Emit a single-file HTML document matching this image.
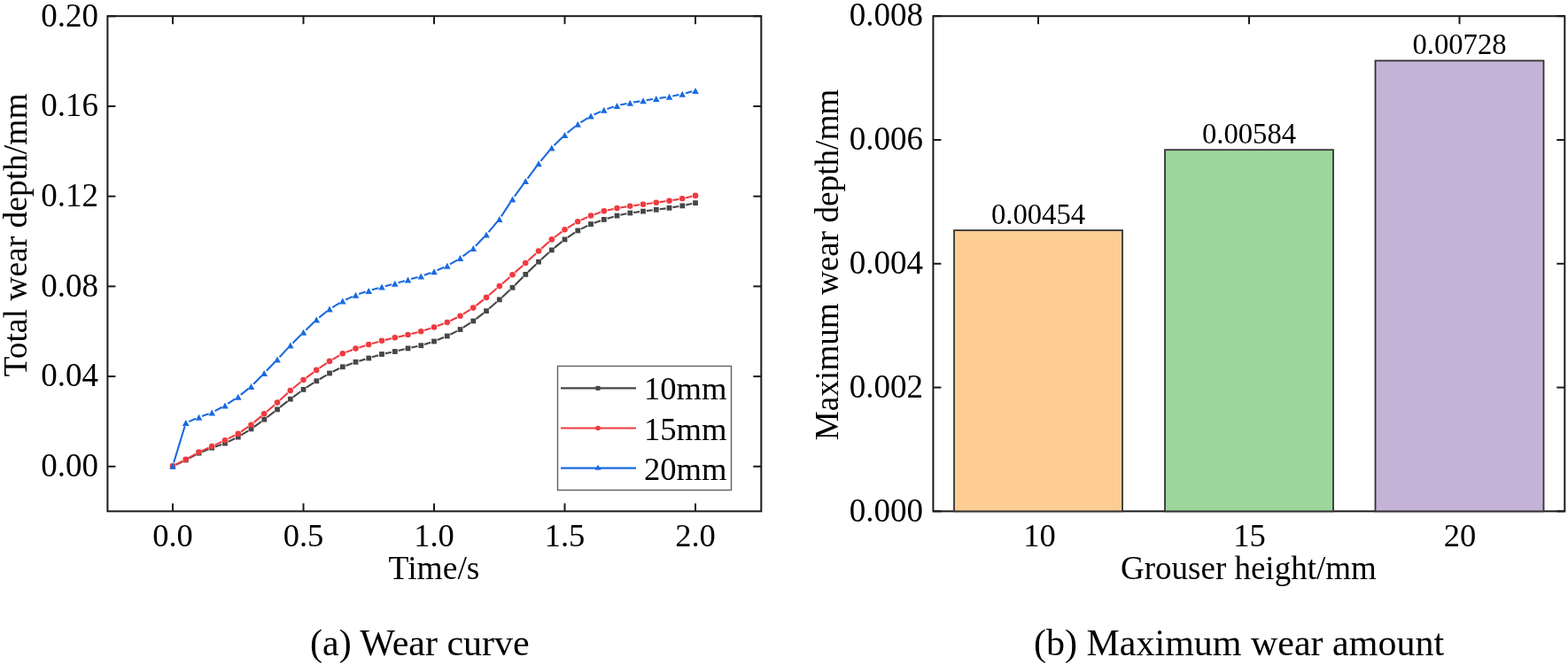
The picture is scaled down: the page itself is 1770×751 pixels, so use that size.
<!DOCTYPE html>
<html><head><meta charset="utf-8"><title>Wear curve and maximum wear amount</title>
<style>html,body{margin:0;padding:0;background:#fff;}body{width:1770px;height:751px;overflow:hidden;}svg{display:block;}</style>
</head><body>
<svg width="1770" height="751" viewBox="0 0 1770 751"><rect width="1770" height="751" fill="#ffffff"/><g stroke="#1a1a1a" stroke-width="2" fill="none"><rect x="121.4" y="18.2" width="737.9" height="559.1999999999999"/></g><g stroke="#1a1a1a" stroke-width="2"><line x1="121.4" y1="526.8" x2="130.4" y2="526.8"/><line x1="859.3" y1="526.8" x2="850.3" y2="526.8"/><line x1="121.4" y1="425.1" x2="130.4" y2="425.1"/><line x1="859.3" y1="425.1" x2="850.3" y2="425.1"/><line x1="121.4" y1="323.4" x2="130.4" y2="323.4"/><line x1="859.3" y1="323.4" x2="850.3" y2="323.4"/><line x1="121.4" y1="221.7" x2="130.4" y2="221.7"/><line x1="859.3" y1="221.7" x2="850.3" y2="221.7"/><line x1="121.4" y1="120.0" x2="130.4" y2="120.0"/><line x1="859.3" y1="120.0" x2="850.3" y2="120.0"/><line x1="121.4" y1="18.3" x2="130.4" y2="18.3"/><line x1="859.3" y1="18.3" x2="850.3" y2="18.3"/><line x1="195.0" y1="577.4" x2="195.0" y2="568.4"/><line x1="195.0" y1="18.2" x2="195.0" y2="27.2"/><line x1="342.5" y1="577.4" x2="342.5" y2="568.4"/><line x1="342.5" y1="18.2" x2="342.5" y2="27.2"/><line x1="490.0" y1="577.4" x2="490.0" y2="568.4"/><line x1="490.0" y1="18.2" x2="490.0" y2="27.2"/><line x1="637.5" y1="577.4" x2="637.5" y2="568.4"/><line x1="637.5" y1="18.2" x2="637.5" y2="27.2"/><line x1="785.0" y1="577.4" x2="785.0" y2="568.4"/><line x1="785.0" y1="18.2" x2="785.0" y2="27.2"/></g><g font-family="Liberation Serif, Times New Roman, serif" font-size="37" fill="#000" text-anchor="end"><text x="111" y="538.0">0.00</text><text x="111" y="436.3">0.04</text><text x="111" y="334.6">0.08</text><text x="111" y="232.9">0.12</text><text x="111" y="131.2">0.16</text><text x="111" y="29.5">0.20</text></g><g font-family="Liberation Serif, Times New Roman, serif" font-size="36.5" fill="#000" text-anchor="middle"><text x="195.0" y="616.5">0.0</text><text x="342.5" y="616.5">0.5</text><text x="490.0" y="616.5">1.0</text><text x="637.5" y="616.5">1.5</text><text x="785.0" y="616.5">2.0</text></g><text font-family="Liberation Serif, Times New Roman, serif" font-size="37.5" x="490" y="654" text-anchor="middle">Time/s</text><text font-family="Liberation Serif, Times New Roman, serif" font-size="37.5" transform="translate(30,265.5) rotate(-90)" text-anchor="middle">Total wear depth/mm</text><path d="M198.61 524.79L206.14 521.21M213.29 517.63L220.96 513.57M228.21 510.19L235.54 507.21M243.03 504.39L250.22 501.91M257.61 498.89L265.14 495.31M272.14 491.48L280.11 486.52M286.74 482.05L295.01 476.05M301.43 471.27L309.82 464.83M316.13 459.91L324.62 453.19M330.98 448.34L339.27 442.26M345.85 437.72L353.90 432.48M360.69 428.25L368.56 423.55M375.59 419.75L383.16 416.05M390.50 412.90L397.75 410.20M405.34 407.68L412.41 405.62M420.08 403.33L427.17 401.17M434.92 399.20L441.83 397.80M449.64 396.05L456.61 394.35M464.41 392.55L471.34 391.05M479.06 388.99L486.19 386.71M493.71 383.99L501.04 381.01M508.33 377.71L515.92 373.89M522.85 369.92L530.90 364.68M537.43 360.07L545.82 353.63M552.02 348.58L560.73 341.02M566.69 335.69L575.56 327.51M581.31 321.96L590.44 312.74M596.13 307.13L605.12 298.47M610.97 293.02L619.78 285.08M625.85 279.88L634.40 272.92M640.81 268.16L648.94 262.64M655.83 258.63L663.42 254.87M670.77 251.77L677.98 249.23M685.59 246.78L692.66 244.72M700.41 242.78L707.34 241.32M715.22 239.99L722.03 239.11M729.97 238.12L736.78 237.28M744.71 236.26L751.54 235.34M759.45 234.16L766.30 233.04M774.16 231.55L781.09 230.05" fill="none" stroke="#464646" stroke-width="2.1"/><path d="M198.56 524.67L206.19 520.73M213.24 516.94L221.01 512.56M228.15 508.97L235.60 505.63M242.88 502.33L250.37 498.87M257.58 495.43L265.17 491.67M272.04 487.62L280.21 481.98M286.56 477.13L295.19 469.87M301.28 464.69L309.97 457.21M315.95 451.90L324.80 443.80M330.84 438.56L339.41 431.54M345.70 426.59L354.05 420.31M360.56 415.66L368.69 410.14M375.46 405.89L383.29 401.31M390.48 397.86L397.77 395.04M405.33 392.43L412.42 390.27M420.09 387.98L427.16 385.92M434.89 383.88L441.86 382.22M449.65 380.43L456.60 378.87M464.37 377.00L471.38 375.20M479.06 372.99L486.19 370.71M493.75 368.10L501.00 365.40M508.33 362.23L515.92 358.47M522.90 354.60L530.85 349.70M537.38 345.11L545.87 338.39M552.02 333.28L560.73 325.72M566.77 320.48L575.48 312.92M581.47 307.62L590.28 299.68M596.20 294.30L605.05 286.20M610.99 280.84L619.76 273.06M625.95 267.99L634.30 261.71M640.90 257.20L648.85 252.30M655.89 248.55L663.36 245.15M670.77 242.17L677.98 239.63M685.66 237.45L692.59 235.95M700.45 234.46L707.30 233.34M715.22 232.19L722.03 231.31M729.96 230.24L736.79 229.26M744.71 228.16L751.54 227.24M759.45 226.06L766.30 224.94M774.15 223.40L781.10 221.80" fill="none" stroke="#ee3b40" stroke-width="2.1"/><path d="M196.10 522.56L208.65 481.24M213.24 476.09L221.01 472.71M228.08 469.92L235.67 467.18M242.60 464.11L250.65 459.79M257.17 455.90L265.58 450.30M271.73 445.84L280.52 438.86M286.16 433.79L295.59 424.21M300.87 418.75L310.38 408.75M315.58 403.21L325.17 392.89M330.43 387.41L339.82 377.99M345.23 372.65L354.52 363.65M360.21 358.61L369.04 351.49M375.24 347.12L383.51 342.08M390.20 338.51L398.05 334.89M405.11 332.10L412.64 329.60M419.90 327.34L427.35 325.16M434.68 323.15L442.07 321.25M449.40 319.26L456.85 317.14M464.16 315.08L471.59 313.02M478.83 310.72L486.42 307.98M493.49 305.19L501.26 301.81M508.02 298.37L516.23 293.53M522.54 289.32L531.21 282.78M536.88 277.76L546.37 267.84M551.44 262.19L561.31 250.41M565.83 244.32L576.42 228.08M580.73 221.83L591.02 207.67M595.52 201.55L605.73 187.85M610.42 181.87L620.33 169.83M625.46 164.24L634.79 155.06M640.44 149.99L649.31 142.71M655.47 138.29L663.78 133.11M670.45 129.51L678.30 125.89M685.36 123.10L692.89 120.60M700.21 118.59L707.54 117.01M715.00 115.56L722.25 114.34M729.76 113.14L736.99 112.06M744.50 110.91L751.75 109.79M759.22 108.44L766.53 106.96M773.93 105.25L781.32 103.35" fill="none" stroke="#1a6ae0" stroke-width="2.1"/><rect x="192.1" y="523.6" width="5.8" height="5.8" fill="#464646"/><rect x="206.8" y="516.6" width="5.8" height="5.8" fill="#464646"/><rect x="221.6" y="508.8" width="5.8" height="5.8" fill="#464646"/><rect x="236.3" y="502.8" width="5.8" height="5.8" fill="#464646"/><rect x="251.1" y="497.7" width="5.8" height="5.8" fill="#464646"/><rect x="265.9" y="490.7" width="5.8" height="5.8" fill="#464646"/><rect x="280.6" y="481.5" width="5.8" height="5.8" fill="#464646"/><rect x="295.4" y="470.8" width="5.8" height="5.8" fill="#464646"/><rect x="310.1" y="459.5" width="5.8" height="5.8" fill="#464646"/><rect x="324.9" y="447.8" width="5.8" height="5.8" fill="#464646"/><rect x="339.6" y="437.0" width="5.8" height="5.8" fill="#464646"/><rect x="354.4" y="427.4" width="5.8" height="5.8" fill="#464646"/><rect x="369.1" y="418.6" width="5.8" height="5.8" fill="#464646"/><rect x="383.9" y="411.4" width="5.8" height="5.8" fill="#464646"/><rect x="398.6" y="405.9" width="5.8" height="5.8" fill="#464646"/><rect x="413.4" y="401.6" width="5.8" height="5.8" fill="#464646"/><rect x="428.1" y="397.1" width="5.8" height="5.8" fill="#464646"/><rect x="442.9" y="394.1" width="5.8" height="5.8" fill="#464646"/><rect x="457.6" y="390.5" width="5.8" height="5.8" fill="#464646"/><rect x="472.4" y="387.3" width="5.8" height="5.8" fill="#464646"/><rect x="487.1" y="382.6" width="5.8" height="5.8" fill="#464646"/><rect x="501.9" y="376.6" width="5.8" height="5.8" fill="#464646"/><rect x="516.6" y="369.2" width="5.8" height="5.8" fill="#464646"/><rect x="531.4" y="359.6" width="5.8" height="5.8" fill="#464646"/><rect x="546.1" y="348.3" width="5.8" height="5.8" fill="#464646"/><rect x="560.9" y="335.5" width="5.8" height="5.8" fill="#464646"/><rect x="575.6" y="321.9" width="5.8" height="5.8" fill="#464646"/><rect x="590.4" y="307.0" width="5.8" height="5.8" fill="#464646"/><rect x="605.1" y="292.8" width="5.8" height="5.8" fill="#464646"/><rect x="619.9" y="279.5" width="5.8" height="5.8" fill="#464646"/><rect x="634.6" y="267.5" width="5.8" height="5.8" fill="#464646"/><rect x="649.4" y="257.5" width="5.8" height="5.8" fill="#464646"/><rect x="664.1" y="250.2" width="5.8" height="5.8" fill="#464646"/><rect x="678.9" y="245.0" width="5.8" height="5.8" fill="#464646"/><rect x="693.6" y="240.7" width="5.8" height="5.8" fill="#464646"/><rect x="708.4" y="237.6" width="5.8" height="5.8" fill="#464646"/><rect x="723.1" y="235.7" width="5.8" height="5.8" fill="#464646"/><rect x="737.9" y="233.9" width="5.8" height="5.8" fill="#464646"/><rect x="752.6" y="231.9" width="5.8" height="5.8" fill="#464646"/><rect x="767.4" y="229.5" width="5.8" height="5.8" fill="#464646"/><rect x="782.1" y="226.3" width="5.8" height="5.8" fill="#464646"/><circle cx="195.0" cy="526.5" r="3.3" fill="#ee3b40"/><circle cx="209.8" cy="518.9" r="3.3" fill="#ee3b40"/><circle cx="224.5" cy="510.6" r="3.3" fill="#ee3b40"/><circle cx="239.2" cy="504.0" r="3.3" fill="#ee3b40"/><circle cx="254.0" cy="497.2" r="3.3" fill="#ee3b40"/><circle cx="268.8" cy="489.9" r="3.3" fill="#ee3b40"/><circle cx="283.5" cy="479.7" r="3.3" fill="#ee3b40"/><circle cx="298.2" cy="467.3" r="3.3" fill="#ee3b40"/><circle cx="313.0" cy="454.6" r="3.3" fill="#ee3b40"/><circle cx="327.8" cy="441.1" r="3.3" fill="#ee3b40"/><circle cx="342.5" cy="429.0" r="3.3" fill="#ee3b40"/><circle cx="357.2" cy="417.9" r="3.3" fill="#ee3b40"/><circle cx="372.0" cy="407.9" r="3.3" fill="#ee3b40"/><circle cx="386.8" cy="399.3" r="3.3" fill="#ee3b40"/><circle cx="401.5" cy="393.6" r="3.3" fill="#ee3b40"/><circle cx="416.2" cy="389.1" r="3.3" fill="#ee3b40"/><circle cx="431.0" cy="384.8" r="3.3" fill="#ee3b40"/><circle cx="445.8" cy="381.3" r="3.3" fill="#ee3b40"/><circle cx="460.5" cy="378.0" r="3.3" fill="#ee3b40"/><circle cx="475.2" cy="374.2" r="3.3" fill="#ee3b40"/><circle cx="490.0" cy="369.5" r="3.3" fill="#ee3b40"/><circle cx="504.8" cy="364.0" r="3.3" fill="#ee3b40"/><circle cx="519.5" cy="356.7" r="3.3" fill="#ee3b40"/><circle cx="534.2" cy="347.6" r="3.3" fill="#ee3b40"/><circle cx="549.0" cy="335.9" r="3.3" fill="#ee3b40"/><circle cx="563.8" cy="323.1" r="3.3" fill="#ee3b40"/><circle cx="578.5" cy="310.3" r="3.3" fill="#ee3b40"/><circle cx="593.2" cy="297.0" r="3.3" fill="#ee3b40"/><circle cx="608.0" cy="283.5" r="3.3" fill="#ee3b40"/><circle cx="622.8" cy="270.4" r="3.3" fill="#ee3b40"/><circle cx="637.5" cy="259.3" r="3.3" fill="#ee3b40"/><circle cx="652.2" cy="250.2" r="3.3" fill="#ee3b40"/><circle cx="667.0" cy="243.5" r="3.3" fill="#ee3b40"/><circle cx="681.8" cy="238.3" r="3.3" fill="#ee3b40"/><circle cx="696.5" cy="235.1" r="3.3" fill="#ee3b40"/><circle cx="711.2" cy="232.7" r="3.3" fill="#ee3b40"/><circle cx="726.0" cy="230.8" r="3.3" fill="#ee3b40"/><circle cx="740.8" cy="228.7" r="3.3" fill="#ee3b40"/><circle cx="755.5" cy="226.7" r="3.3" fill="#ee3b40"/><circle cx="770.2" cy="224.3" r="3.3" fill="#ee3b40"/><circle cx="785.0" cy="220.9" r="3.3" fill="#ee3b40"/><polygon points="195.0,522.7 191.2,529.7 198.8,529.7" fill="#1a6ae0"/><polygon points="209.8,474.1 205.9,481.1 213.6,481.1" fill="#1a6ae0"/><polygon points="224.5,467.7 220.7,474.7 228.3,474.7" fill="#1a6ae0"/><polygon points="239.2,462.4 235.4,469.4 243.1,469.4" fill="#1a6ae0"/><polygon points="254.0,454.5 250.2,461.5 257.8,461.5" fill="#1a6ae0"/><polygon points="268.8,444.7 264.9,451.7 272.6,451.7" fill="#1a6ae0"/><polygon points="283.5,433.0 279.7,440.0 287.3,440.0" fill="#1a6ae0"/><polygon points="298.2,418.0 294.4,425.0 302.1,425.0" fill="#1a6ae0"/><polygon points="313.0,402.5 309.2,409.5 316.8,409.5" fill="#1a6ae0"/><polygon points="327.8,386.6 323.9,393.6 331.6,393.6" fill="#1a6ae0"/><polygon points="342.5,371.8 338.7,378.8 346.3,378.8" fill="#1a6ae0"/><polygon points="357.2,357.5 353.4,364.5 361.1,364.5" fill="#1a6ae0"/><polygon points="372.0,345.6 368.2,352.6 375.8,352.6" fill="#1a6ae0"/><polygon points="386.8,336.6 382.9,343.6 390.6,343.6" fill="#1a6ae0"/><polygon points="401.5,329.8 397.7,336.8 405.3,336.8" fill="#1a6ae0"/><polygon points="416.2,324.9 412.4,331.9 420.1,331.9" fill="#1a6ae0"/><polygon points="431.0,320.6 427.2,327.6 434.8,327.6" fill="#1a6ae0"/><polygon points="445.8,316.8 441.9,323.8 449.6,323.8" fill="#1a6ae0"/><polygon points="460.5,312.6 456.7,319.6 464.3,319.6" fill="#1a6ae0"/><polygon points="475.2,308.5 471.4,315.5 479.1,315.5" fill="#1a6ae0"/><polygon points="490.0,303.2 486.2,310.2 493.8,310.2" fill="#1a6ae0"/><polygon points="504.8,296.8 500.9,303.8 508.6,303.8" fill="#1a6ae0"/><polygon points="519.5,288.1 515.7,295.1 523.3,295.1" fill="#1a6ae0"/><polygon points="534.2,277.0 530.5,284.0 538.0,284.0" fill="#1a6ae0"/><polygon points="549.0,261.6 545.2,268.6 552.8,268.6" fill="#1a6ae0"/><polygon points="563.8,244.0 560.0,251.0 567.5,251.0" fill="#1a6ae0"/><polygon points="578.5,221.4 574.7,228.4 582.3,228.4" fill="#1a6ae0"/><polygon points="593.2,201.1 589.5,208.1 597.0,208.1" fill="#1a6ae0"/><polygon points="608.0,181.3 604.2,188.3 611.8,188.3" fill="#1a6ae0"/><polygon points="622.8,163.4 619.0,170.4 626.5,170.4" fill="#1a6ae0"/><polygon points="637.5,148.9 633.7,155.9 641.3,155.9" fill="#1a6ae0"/><polygon points="652.2,136.8 648.5,143.8 656.0,143.8" fill="#1a6ae0"/><polygon points="667.0,127.6 663.2,134.6 670.8,134.6" fill="#1a6ae0"/><polygon points="681.8,120.8 678.0,127.8 685.5,127.8" fill="#1a6ae0"/><polygon points="696.5,115.9 692.7,122.9 700.3,122.9" fill="#1a6ae0"/><polygon points="711.2,112.7 707.5,119.7 715.0,119.7" fill="#1a6ae0"/><polygon points="726.0,110.2 722.2,117.2 729.8,117.2" fill="#1a6ae0"/><polygon points="740.8,108.0 737.0,115.0 744.5,115.0" fill="#1a6ae0"/><polygon points="755.5,105.7 751.7,112.7 759.3,112.7" fill="#1a6ae0"/><polygon points="770.2,102.7 766.5,109.7 774.0,109.7" fill="#1a6ae0"/><polygon points="785.0,98.9 781.2,105.9 788.8,105.9" fill="#1a6ae0"/><rect x="629.5" y="413.5" width="196" height="140" fill="#fff" stroke="#606060" stroke-width="1.4"/><line x1="633" y1="438.4" x2="718" y2="438.4" stroke="#464646" stroke-width="2.2"/><rect x="672.5" y="435.9" width="5" height="5" fill="#464646"/><text font-family="Liberation Serif, Times New Roman, serif" font-size="36.6" x="727" y="451.4">10mm</text><line x1="633" y1="483.5" x2="718" y2="483.5" stroke="#ee3b40" stroke-width="2.2"/><circle cx="675" cy="483.5" r="2.8" fill="#ee3b40"/><text font-family="Liberation Serif, Times New Roman, serif" font-size="36.6" x="727" y="496.5">15mm</text><line x1="633" y1="528.7" x2="718" y2="528.7" stroke="#1a6ae0" stroke-width="2.2"/><polygon points="675,524.7 671.5,530.7 678.5,530.7" fill="#1a6ae0"/><text font-family="Liberation Serif, Times New Roman, serif" font-size="36.6" x="727" y="541.7">20mm</text><rect x="1053.4" y="18.2" width="712.8999999999999" height="559.1999999999999" fill="none" stroke="#1a1a1a" stroke-width="2"/><rect x="1077.0" y="260.1" width="190" height="317.3" fill="#fdcd93" stroke="#333" stroke-width="1.8"/><text font-family="Liberation Serif, Times New Roman, serif" font-size="32.7" x="1172.0" y="252.9" text-anchor="middle">0.00454</text><rect x="1315.0" y="169.2" width="190" height="408.2" fill="#9dd69d" stroke="#333" stroke-width="1.8"/><text font-family="Liberation Serif, Times New Roman, serif" font-size="32.7" x="1410.0" y="162.0" text-anchor="middle">0.00584</text><rect x="1552.5" y="68.5" width="190" height="508.9" fill="#c5b3d7" stroke="#333" stroke-width="1.8"/><text font-family="Liberation Serif, Times New Roman, serif" font-size="32.7" x="1647.5" y="61.3" text-anchor="middle">0.00728</text><g stroke="#1a1a1a" stroke-width="2"><line x1="1053.4" y1="577.4" x2="1062.4" y2="577.4"/><line x1="1766.3" y1="577.4" x2="1757.3" y2="577.4"/><line x1="1053.4" y1="437.6" x2="1062.4" y2="437.6"/><line x1="1766.3" y1="437.6" x2="1757.3" y2="437.6"/><line x1="1053.4" y1="297.8" x2="1062.4" y2="297.8"/><line x1="1766.3" y1="297.8" x2="1757.3" y2="297.8"/><line x1="1053.4" y1="158.0" x2="1062.4" y2="158.0"/><line x1="1766.3" y1="158.0" x2="1757.3" y2="158.0"/><line x1="1053.4" y1="18.2" x2="1062.4" y2="18.2"/><line x1="1766.3" y1="18.2" x2="1757.3" y2="18.2"/><line x1="1172.0" y1="18.2" x2="1172.0" y2="27.2"/><line x1="1410.0" y1="18.2" x2="1410.0" y2="27.2"/><line x1="1647.5" y1="18.2" x2="1647.5" y2="27.2"/></g><g font-family="Liberation Serif, Times New Roman, serif" font-size="37" fill="#000" text-anchor="end"><text x="1042" y="588.6">0.000</text><text x="1042" y="448.8">0.002</text><text x="1042" y="309.0">0.004</text><text x="1042" y="169.2">0.006</text><text x="1042" y="29.4">0.008</text></g><g font-family="Liberation Serif, Times New Roman, serif" font-size="36.5" fill="#000" text-anchor="middle"><text x="1173.4" y="616.5">10</text><text x="1410.5" y="616.5">15</text><text x="1648" y="616.5">20</text></g><text font-family="Liberation Serif, Times New Roman, serif" font-size="37" x="1409.4" y="654.3" text-anchor="middle">Grouser height/mm</text><text font-family="Liberation Serif, Times New Roman, serif" font-size="37.2" transform="translate(946.3,299) rotate(-90)" text-anchor="middle">Maximum wear depth/mm</text><text font-family="Liberation Serif, Times New Roman, serif" font-size="42" x="350" y="740">(a) Wear curve</text><text font-family="Liberation Serif, Times New Roman, serif" font-size="42" x="1167" y="740">(b) Maximum wear amount</text></svg>
</body></html>
